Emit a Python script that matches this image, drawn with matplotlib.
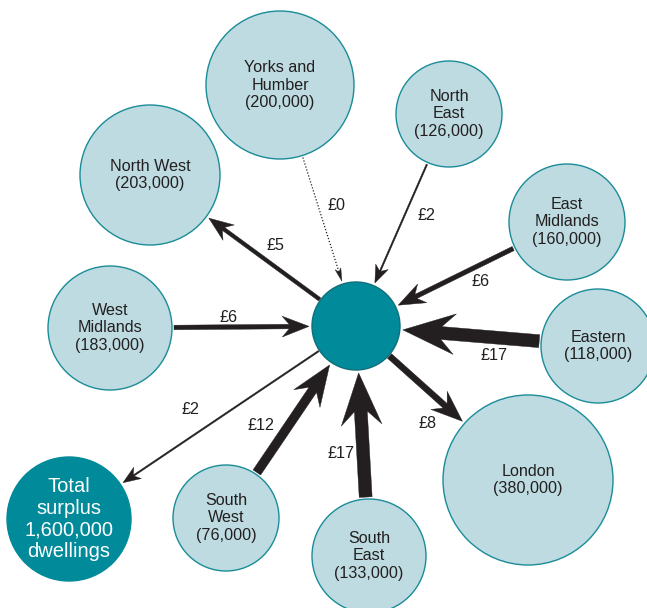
import numpy as np
import matplotlib.pyplot as plt
from matplotlib.patches import Circle, Polygon

plt.rcParams['font.family'] = ['Liberation Sans', 'DejaVu Sans']

# === Data ===
regions = ["Yorks and\nHumber", "North\nEast", "North West", "East\nMidlands", "Eastern",
           "London", "South\nEast", "South\nWest", "West\nMidlands"]
dwellings = [200000, 126000, 203000, 160000, 118000, 380000, 133000, 76000, 183000]
payments = [0, 2, 5, 6, 17, 8, 17, 12, 6]
# +1 = region pays into the centre, -1 = centre pays out to region
direction = [1, 1, -1, 1, 1, -1, 1, 1, 1]
surplus_payment = 2
total_surplus = 1600000

# === Layout (pixel coords, y down) ===
hub = (356, 326, 44)
pos = [(280, 85, 74), (449, 114, 53), (150, 175, 70), (567, 222, 58), (598, 346, 57),
       (528, 480, 85), (369, 556, 57), (226, 518, 53), (110, 328, 62)]
total_pos = (69, 519, 62)
label_pos = [(337, 206), (427, 215), (275, 246), (481, 281), (494, 355),
             (428, 423), (341, 453), (261, 425), (229, 317)]
surplus_label = (190, 410)

light = "#bddbe0"
edge = "#1a8c98"
teal = "#008a9a"
ink = "#231f20"

fig = plt.figure(figsize=(6.47, 6.08), dpi=100)
ax = fig.add_axes([0, 0, 1, 1])
ax.set_xlim(0, 647)
ax.set_ylim(608, 0)
ax.set_aspect('equal')
ax.axis('off')


def arrow(p0, p1, pay, dotted=False):
    # p0 -> p1, shaft width and head scaled with payment
    p0, p1 = np.array(p0, float), np.array(p1, float)
    d = p1 - p0
    L = np.hypot(*d)
    u = d / L
    n = np.array([-u[1], u[0]])
    w = max(pay * 0.76, 1.1) / 2
    hl = 13 + 2.3 * pay
    hw = 5 + 0.9 * pay
    back = p1 - u * hl
    neck = p1 - u * hl * 0.74
    if dotted:
        ax.plot([p0[0], neck[0]], [p0[1], neck[1]], color=ink, lw=0.9, ls=(0, (1, 1.5)), zorder=3)
        pts = [p1, back + n * hw * 0.6, neck, back - n * hw * 0.6]
    else:
        pts = [p1, back + n * hw, neck + n * w, p0 + n * w, p0 - n * w, neck - n * w, back - n * hw]
    ax.add_patch(Polygon(pts, closed=True, fc=ink, ec=ink, lw=0.3, zorder=3))


def edge_point(c_from, c_to, gap=2):
    a = np.array(c_from[:2], float)
    b = np.array(c_to[:2], float)
    u = (b - a) / np.hypot(*(b - a))
    return a + u * (c_from[2] + gap)


for i, name in enumerate(regions):
    x, y, r = pos[i]
    ax.add_patch(Circle((x, y), r, fc=light, ec=edge, lw=1.0, zorder=2))
    ax.text(x, y, f"{name}\n({dwellings[i]:,})", ha='center', va='center', fontsize=11.6,
            color=ink, linespacing=1.22, zorder=4)
    a = edge_point(pos[i], hub, 2)
    b = edge_point(hub, pos[i], 3)
    if direction[i] < 0:
        a, b = edge_point(hub, pos[i], 1), edge_point(pos[i], hub, 3)
    arrow(a, b, payments[i], dotted=payments[i] == 0)
    lx, ly = label_pos[i]
    ax.text(lx, ly, f"£{payments[i]}", ha='center', va='center', fontsize=11.6, color=ink, zorder=4)

ax.add_patch(Circle(hub[:2], hub[2], fc=teal, ec="#0f6f7a", lw=1.0, zorder=2))

tx, ty, tr = total_pos
ax.add_patch(Circle((tx, ty), tr, fc=teal, ec=teal, lw=1.0, zorder=2))
ax.text(tx, ty, f"Total\nsurplus\n{total_surplus:,}\ndwellings", ha='center', va='center',
        fontsize=14.5, color='white', linespacing=1.18, zorder=4)
arrow(edge_point(hub, total_pos, 1), edge_point(total_pos, hub, 3), surplus_payment)
ax.text(*surplus_label, f"£{surplus_payment}", ha='center', va='center', fontsize=11.6, color=ink)

fig.savefig("out.png", dpi=100)
